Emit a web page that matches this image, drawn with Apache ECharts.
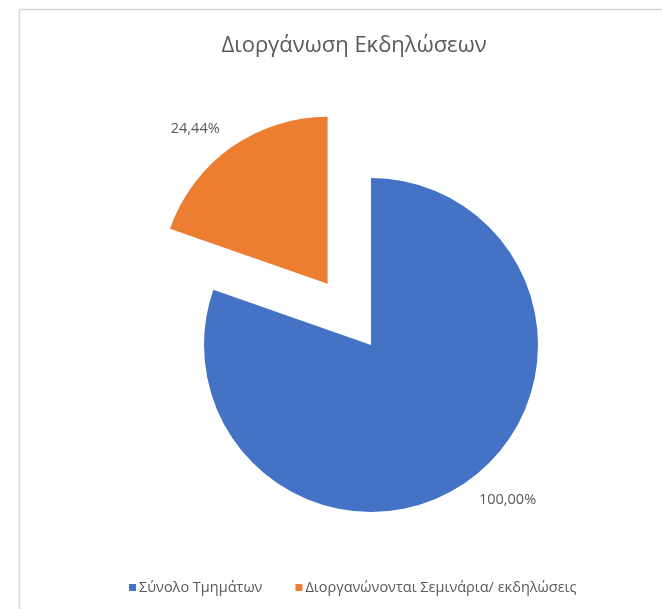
<!DOCTYPE html>
<html>
<head>
<meta charset="utf-8">
<script src="https://cdn.jsdelivr.net/npm/echarts@6/dist/echarts.min.js"></script>
<style>
  html, body { margin: 0; padding: 0; background: #fff; }
  #chart { width: 662px; height: 609px; }
</style>
</head>
<body>
<div id="chart"></div>
<script>
const titleText = 'Διοργάνωση Εκδηλώσεων';
const categories = ['Σύνολο Τμημάτων', 'Διοργανώνονται Σεμινάρια/ εκδηλώσεις'];
const values = [100.00, 24.44];
const colors = ['#4472C4', '#ED7D31'];

const textColor = '#595959';
const fontFamily = '"Open Sans", "Noto Sans", sans-serif';

const chart = echarts.init(document.getElementById('chart'));

chart.setOption({
    animation: false,
    title: {
        text: titleText,
        left: 349,
        top: 30,
        textAlign: 'center',
        textStyle: { color: textColor, fontSize: 22, fontWeight: 'normal', fontFamily }
    },
    legend: {
        data: categories,
        left: 124,
        top: 575,
        icon: 'rect',
        itemWidth: 7,
        itemHeight: 7,
        itemGap: 33,
        textStyle: { color: textColor, fontSize: 14.5, fontFamily, padding: [0, 0, 0, -2] }
    },
    graphic: [{
        type: 'rect',
        shape: { x: 19.5, y: 9.5, width: 700, height: 700 },
        style: { fill: 'none', stroke: '#d9d9d9', lineWidth: 1.5 },
        silent: true
    }],
    series: [{
        type: 'pie',
        center: [371, 345],
        radius: [0, 167],
        startAngle: 90,
        clockwise: true,
        selectedMode: 'single',
        selectedOffset: 75,
        avoidLabelOverlap: false,
        label: {
            show: true,
            position: 'outside',
            color: textColor,
            fontSize: 14.5,
            fontFamily,
            formatter: p => p.value.toFixed(2).replace('.', ',') + '%'
        },
        labelLine: { show: false, length: 23, length2: -7 },
        emphasis: { disabled: true },
        data: categories.map((name, i) => ({
            name,
            value: values[i],
            selected: i === 1,
            itemStyle: { color: colors[i] }
        }))
    }]
});
</script>
</body>
</html>
